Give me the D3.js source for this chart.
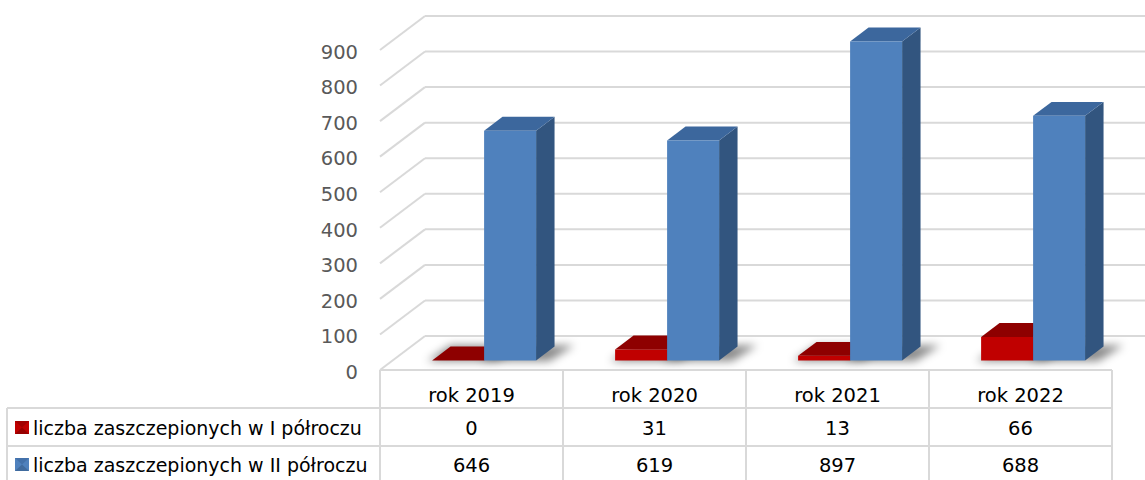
<!DOCTYPE html>
<html><head><meta charset="utf-8">
<script src="https://cdn.jsdelivr.net/npm/d3@7"></script>
<style>
html,body{margin:0;padding:0;background:#fff;}
svg{display:block;font-family:"DejaVu Sans",Verdana,sans-serif;}
</style></head>
<body>
<svg id="chart" width="1145" height="480"></svg>
<script>
const categories = ["rok 2019", "rok 2020", "rok 2021", "rok 2022"];
const seriesNames = ["liczba zaszczepionych w I półroczu", "liczba zaszczepionych w II półroczu"];
const valuesI = [0, 31, 13, 66];
const valuesII = [646, 619, 897, 688];
const yTicks = [0, 100, 200, 300, 400, 500, 600, 700, 800, 900];

const seriesData = [valuesI, valuesII];
const colors = [
  {front: "#C00000", top: "#8E0000", side: "#6E0000"},
  {front: "#4F81BD", top: "#3C679D", side: "#32557F"}
];

const svg = d3.select("#chart");
const W = 1145, H = 480;
const DX = 45, DY = 34;      // full depth offset
const Z0 = 0.28, Z1 = 0.69;  // bar depth range
const FS = 19.5, FSL = 19;

const x = d3.scaleBand().domain(categories).range([380, 1112]).padding(0);
const xs = d3.scaleBand().domain([0, 1]).range([0, x.bandwidth()]).paddingInner(0).paddingOuter(0.76);
const y = d3.scaleLinear().domain([0, 900]).range([370, 50]);

const P = (px, py, z) => [px + z * DX, py - z * DY];
const poly = pts => "M" + pts.map(p => p[0].toFixed(2) + "," + p[1].toFixed(2)).join("L") + "Z";

const defs = svg.append("defs");
defs.append("filter").attr("id", "blur").attr("x", "-50%").attr("y", "-50%").attr("width", "200%").attr("height", "200%")
  .append("feGaussianBlur").attr("stdDeviation", 4);

const grid = "#D9D9D9";
const gg = svg.append("g");
yTicks.forEach(v => {
  const f = P(380, y(v), 0), b = P(380, y(v), 1);
  gg.append("line").attr("x1", f[0]).attr("y1", f[1]).attr("x2", b[0]).attr("y2", b[1])
    .attr("stroke", grid).attr("stroke-width", 2);
  gg.append("line").attr("x1", b[0]).attr("y1", b[1]).attr("x2", W + 20).attr("y2", b[1])
    .attr("stroke", grid).attr("stroke-width", 2);
});

const yAxis = d3.axisLeft(y).tickValues(yTicks).tickSize(0).tickPadding(0).tickFormat(d3.format("d"));
const ya = svg.append("g").attr("transform", "translate(358,2)").call(yAxis);
ya.select(".domain").remove();
ya.selectAll("text").attr("font-family", "DejaVu Sans").attr("font-size", FS).attr("fill", "#595959");

const sg = svg.append("g").attr("filter", "url(#blur)");
categories.forEach((c, i) => {
  seriesData.forEach((vals, s) => {
    const x0 = x(c) + xs(s), x1 = x0 + xs.bandwidth();
    const yb = y(0);
    const pts = [P(x0 - 4, yb, Z0 - 0.02), P(x1 + 14, yb, Z0 - 0.02), P(x1 + 18, yb, Z1 + 0.04), P(x0 - 2, yb, Z1 + 0.04)];
    sg.append("path").attr("d", poly(pts)).attr("fill", "#000").attr("opacity", 0.45);
  });
});

const bg = svg.append("g");
categories.forEach((c, i) => {
  seriesData.forEach((vals, s) => {
    const v = vals[i];
    const x0 = x(c) + xs(s), x1 = x0 + xs.bandwidth();
    const yb = y(0), yt = y(v);
    const col = colors[s];
    const g = bg.append("g");
    g.append("path").attr("d", poly([P(x1, yb, Z0), P(x1, yt, Z0), P(x1, yt, Z1), P(x1, yb, Z1)])).attr("fill", col.side);
    g.append("path").attr("d", poly([P(x0, yt, Z0), P(x1, yt, Z0), P(x1, yt, Z1), P(x0, yt, Z1)])).attr("fill", col.top);
    if (yb - yt > 0.5)
      g.append("path").attr("d", poly([P(x0, yb, Z0), P(x1, yb, Z0), P(x1, yt, Z0), P(x0, yt, Z0)])).attr("fill", col.front);
  });
});

const tg = svg.append("g");
const tLine = (x1, y1, x2, y2) => tg.append("line").attr("x1", x1).attr("y1", y1).attr("x2", x2).attr("y2", y2)
  .attr("stroke", grid).attr("stroke-width", 2);
const rowY = [370, 408, 446, 484];
tLine(380, rowY[0], 1112, rowY[0]);
tLine(7, rowY[1], 1112, rowY[1]);
tLine(7, rowY[2], 1112, rowY[2]);
tLine(7, rowY[3], 1112, rowY[3]);
tLine(7, rowY[1], 7, H + 5);
tLine(380, rowY[0], 380, H + 5);
categories.forEach(c => tLine(x(c) + x.bandwidth(), rowY[0], x(c) + x.bandwidth(), H + 5));

const txt = (t, px, py, anchor, fs) => tg.append("text").attr("x", px).attr("y", py).attr("text-anchor", anchor)
  .attr("font-size", fs).attr("fill", "#000").text(t);
categories.forEach((c, i) => {
  const cx = x(c) + x.bandwidth() / 2;
  txt(c, cx, 402, "middle", FS);
  txt(String(valuesI[i]), cx, 434.5, "middle", FS);
  txt(String(valuesII[i]), cx, 472, "middle", FS);
});
const keyY = [421, 458];
seriesNames.forEach((n, s) => {
  const k = tg.append("g");
  k.append("rect").attr("x", 15).attr("y", keyY[s]).attr("width", 14).attr("height", 13).attr("fill", colors[s].front);
  k.append("path").attr("d", `M15,${keyY[s]}L29,${keyY[s]}L22,${keyY[s] + 6.5}Z`).attr("fill", colors[s].top).attr("opacity", 0.6);
  k.append("path").attr("d", `M15,${keyY[s] + 13}L29,${keyY[s] + 13}L22,${keyY[s] + 6.5}Z`).attr("fill", colors[s].side).attr("opacity", 0.5);
  txt(n, 33, [434.5, 472][s], "start", FSL);
});
</script>
</body></html>
